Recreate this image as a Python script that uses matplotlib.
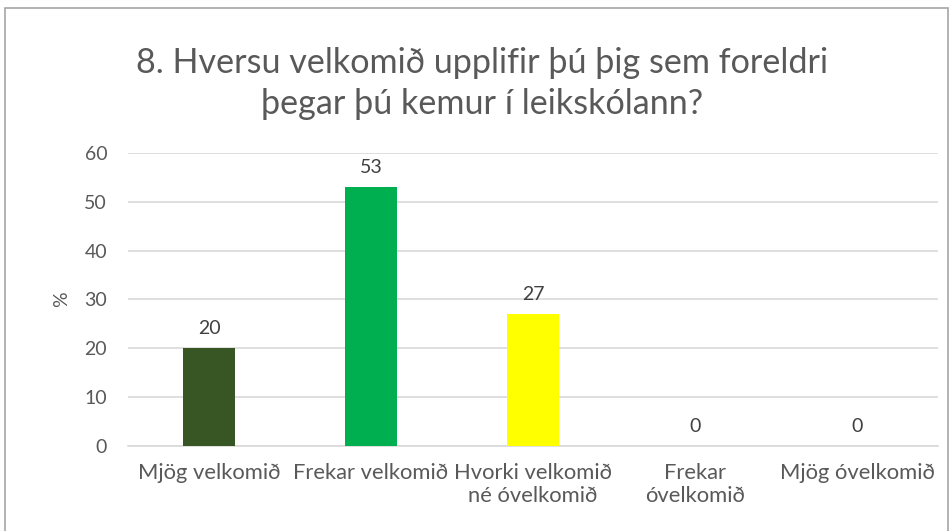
import matplotlib.pyplot as plt
from matplotlib.patches import Rectangle

# Chart data
categories = ['Mjög velkomið', 'Frekar velkomið', 'Hvorki velkomið\nné óvelkomið',
              'Frekar\nóvelkomið', 'Mjög óvelkomið']
values = [20, 53, 27, 0, 0]
bar_colors = ['#375623', '#00B050', '#FFFF00', '#00B050', '#00B050']
yticks = [0, 10, 20, 30, 40, 50, 60]
title = '8. Hversu velkomið upplifir þú þig sem foreldri\nþegar þú kemur í leikskólann?'

plt.rcParams['font.family'] = ['Lato', 'DejaVu Sans']
text_color = '#595959'

fig = plt.figure(figsize=(9.53, 5.31), dpi=100)
ax = fig.add_axes([0.1343, 0.160, 0.850, 0.552])

x = range(len(categories))
ax.bar(x, values, width=0.32, color=bar_colors, zorder=3)

# Data labels above each bar
for xi, v in zip(x, values):
    ax.annotate(f'{v}', (xi, v), xytext=(0, 8), textcoords='offset points',
                ha='center', va='bottom', fontsize=14, color='#404040')

ax.set_xlim(-0.5, len(categories) - 0.5)
ax.set_ylim(0, 60)
ax.set_yticks(yticks)
ax.set_xticks(list(x))
ax.set_xticklabels(categories, fontsize=15.8, color=text_color, linespacing=1.22)
ax.tick_params(axis='y', labelsize=14, labelcolor=text_color, length=0, pad=15)
ax.tick_params(axis='x', length=0, pad=12)
ax.grid(axis='y', color='#D9D9D9', linewidth=1.2, zorder=0)
for side in ['top', 'right', 'left']:
    ax.spines[side].set_visible(False)
ax.spines['bottom'].set_color('#D9D9D9')
ax.spines['bottom'].set_linewidth(1.2)

ax.set_ylabel('%', fontsize=14, color=text_color, labelpad=10)

fig.text(0.506, 0.843, title, ha='center', va='center', fontsize=24.6,
         color='#595959', linespacing=1.35)

# Outer chart frame
fig.patches.append(Rectangle((0.005, -0.01), 0.99, 0.995, transform=fig.transFigure,
                             fill=False, edgecolor='#A6A6A6', linewidth=1.2))

fig.savefig('out.png', dpi=100)
